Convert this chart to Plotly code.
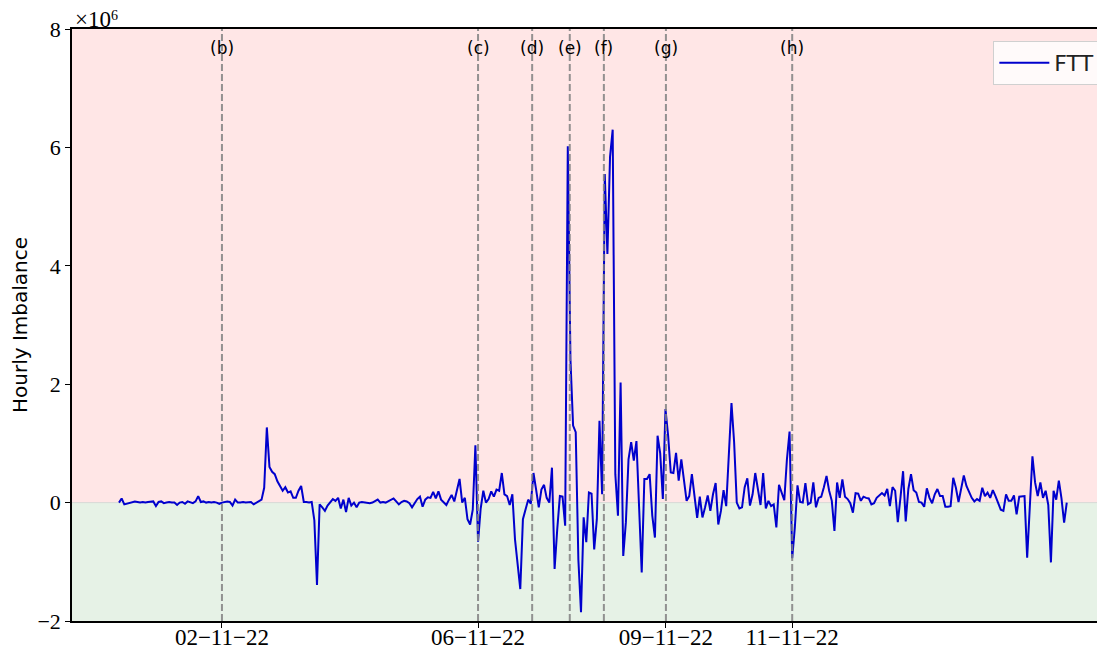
import pandas as pd
import plotly.graph_objects as go

# Hourly imbalance of the FTT series, in units of 10^6
imbalance_millions = [
    # 31-10-22 09:00 onwards
    0.0, 0.07, -0.03, -0.02, 0.0, 0.01, 0.02, 0.01, 0.0, 0.01,
    0.0, 0.01, 0.02, 0.02, -0.06, 0.01, 0.02, -0.01, 0.0, 0.01,
    0.0, 0.0, -0.04, 0.0, 0.01, -0.02, 0.02, 0.0, -0.01, 0.02,
    0.11, 0.01, 0.02, 0.0, 0.01, 0.0, 0.01, 0.0, -0.02, 0.0,
    0.01, 0.02, 0.01, -0.05, 0.05, 0.0, 0.0, 0.01, 0.0, 0.01,
    0.01, -0.03, 0.0, 0.02, 0.05, 0.25, 1.27, 0.6, 0.52, 0.48,
    0.36, 0.28, 0.2, 0.26, 0.17, 0.19, 0.08, 0.08, 0.2, 0.28,
    0.01, 0.01, 0.0, 0.01, -0.3, -1.39, -0.03, -0.08, -0.14, -0.05,
    0.0, 0.06, 0.03, 0.08, -0.1, 0.05, -0.16, 0.08, -0.05, 0.0,
    -0.08, 0.0, 0.01, 0.0, 0.0, -0.01, 0.0, 0.03, 0.05, 0.0,
    0.01, 0.0, 0.02, 0.04, 0.07, 0.02, -0.03, 0.01, 0.03, 0.02,
    -0.01, -0.08, 0.0, 0.06, 0.1, -0.07, 0.05, 0.09, 0.08, 0.18,
    0.07, 0.19, 0.05, 0.0, -0.04, 0.05, 0.13, 0.02, 0.2, 0.4,
    0.0, 0.08, -0.28, -0.37, -0.12, 0.97, -0.66, -0.1, 0.2, 0.0,
    0.06, 0.19, 0.1, 0.22, 0.2, 0.5, 0.14, 0.11, -0.04, 0.14,
    -0.62, -1.07, -1.46, -0.28, -0.12, 0.05, -0.02, 0.5, 0.22, -0.08,
    0.22, 0.3, 0.08, 0.0, 0.59, -1.12, -0.45, 0.11, 0.1, -0.39,
    6.02, 2.42, 1.3, 1.19, -0.96, -1.85, -0.25, -0.67, 0.17, 0.15,
    -0.79, -0.28, 1.38, 0.14, 5.55, 4.2, 5.84, 6.3, 0.48, -0.22,
    2.03, -0.9, -0.33, 0.73, 1.02, 0.71, 1.04, 0.05, -1.18, 0.4,
    0.4, 0.48, -0.22, -0.59, 1.13, 0.83, 0.06, 1.58, 1.13, 0.51,
    0.5, 0.84, 0.37, 0.73, 0.4, 0.03, 0.11, 0.48, 0.11, -0.26,
    0.1, -0.25, -0.08, 0.12, -0.14, 0.14, 0.33, -0.37, -0.14, 0.21,
    -0.06, 0.82, 1.68, 1.02, 0.0, -0.1, -0.08, 0.26, 0.41, -0.05,
    0.14, 0.5, 0.22, -0.04, 0.5, -0.1, 0.03, -0.06, -0.03, -0.42,
    0.3, 0.18, 0.04, 0.73, 1.2, -0.94, -0.42, 0.29, 0.01, 0.0,
    0.33, -0.03, 0.0, 0.34, -0.08, 0.08, 0.1, 0.26, 0.45, 0.2,
    0.03, -0.48, 0.34, 0.08, 0.39, 0.1, 0.06, -0.01, -0.17, 0.16,
    0.15, 0.03, 0.1, 0.08, 0.07, -0.03, -0.01, 0.08, 0.12, 0.16,
    0.12, 0.23, -0.06, 0.26, 0.2, -0.33, 0.08, 0.53, -0.32, 0.23,
    0.48, 0.21, 0.17, 0.01, 0.0, -0.07, 0.24, 0.08, -0.01, 0.14,
    0.23, 0.11, 0.11, -0.07, -0.07, -0.06, 0.42, 0.25, 0.01, 0.23,
    0.46, 0.28, 0.17, 0.08, 0.02, 0.06, 0.03, 0.25, 0.11, 0.17,
    0.08, 0.21, 0.11, -0.01, -0.12, -0.14, 0.14, 0.03, 0.03, 0.12,
    -0.2, 0.1, 0.11, 0.11, -0.93, -0.17, 0.78, 0.34, 0.11, 0.34,
    0.08, 0.2, -0.04, -1.01, 0.2, 0.05, 0.37, 0.07, -0.34, 0.0,
]
series_start = "2022-10-31 09:00"

event_labels = ["(b)", "(c)", "(d)", "(e)", "(f)", "(g)", "(h)"]
event_times = ["2022-11-02 00:00", "2022-11-06 01:00", "2022-11-06 21:30",
               "2022-11-07 11:45", "2022-11-08 00:40", "2022-11-09 00:10",
               "2022-11-11 00:00"]
tick_times = ["2022-11-02 00:00", "2022-11-06 01:00", "2022-11-09 00:10", "2022-11-11 00:00"]
tick_labels = ["02\u221211\u221222", "06\u221211\u221222", "09\u221211\u221222", "11\u221211\u221222"]
y_ticks = [-2, 0, 2, 4, 6, 8]
y_tick_labels = ["\u22122", "0", "2", "4", "6", "8"]
x_range = ["2022-10-30 15:12", "2022-11-15 22:29"]
y_range = [-2, 8]

times = pd.date_range(series_start, periods=len(imbalance_millions), freq="h")

serif = "Liberation Serif, DejaVu Serif, serif"
sans = "DejaVu Sans, Liberation Sans, sans-serif"

fig = go.Figure()
fig.add_trace(go.Scatter(x=times, y=imbalance_millions, mode="lines", name="FTT",
                         line=dict(color="#0000CD", width=2)))

shapes = [
    dict(type="rect", xref="paper", x0=0, x1=1, yref="y", y0=0, y1=y_range[1],
         fillcolor="#FFE6E6", line=dict(width=0), layer="below"),
    dict(type="rect", xref="paper", x0=0, x1=1, yref="y", y0=y_range[0], y1=0,
         fillcolor="#E6F2E6", line=dict(width=0), layer="below"),
    dict(type="line", xref="paper", x0=0, x1=1, yref="y", y0=0, y1=0,
         line=dict(color="rgba(200,200,200,0.6)", width=1), layer="below"),
]
annotations = []
for lab, t in zip(event_labels, event_times):
    shapes.append(dict(type="line", xref="x", x0=t, x1=t, yref="paper", y0=0, y1=1,
                       line=dict(color="rgba(128,128,128,0.85)", width=2, dash="7px,3px")))
    annotations.append(dict(x=t, xref="x", y=0.968, yref="paper", text=lab, showarrow=False,
                            font=dict(family=sans, size=17, color="black"),
                            xanchor="center", yanchor="middle"))
# axis offset text "×10^6" (base and exponent placed separately to stay inside the page)
annotations.append(dict(x=0.001, xref="paper", y=1.016, yref="paper",
                        text="\u00d710", showarrow=False,
                        font=dict(family=serif, size=23, color="black"),
                        xanchor="left", yanchor="middle"))
annotations.append(dict(x=0.0415, xref="paper", y=1.0235, yref="paper",
                        text="6", showarrow=False,
                        font=dict(family=serif, size=14, color="black"),
                        xanchor="center", yanchor="middle"))

# the page body adds an 8px offset, so the figure is sized to fit the window
fig.update_layout(
    width=1097, height=641,
    margin=dict(l=64, r=0, t=21, b=28, autoexpand=False),
    paper_bgcolor="white", plot_bgcolor="white",
    shapes=shapes, annotations=annotations,
    showlegend=True,
    legend=dict(x=0.9955, y=0.98, xanchor="right", yanchor="top",
                bgcolor="rgba(255,255,255,0.8)", bordercolor="#d0d0d0", borderwidth=1,
                itemwidth=50,
                font=dict(family=sans, size=22, color="#222")),
    xaxis=dict(type="date", range=x_range, tickvals=tick_times, ticktext=tick_labels,
               automargin=False,
               showgrid=False, zeroline=False, showline=True, linecolor="black", linewidth=1.5,
               mirror=True, ticks="outside", ticklen=5, tickcolor="black",
               ticklabelstandoff=-10,
               tickfont=dict(family=serif, size=23, color="black")),
    yaxis=dict(range=y_range, tickvals=y_ticks, ticktext=y_tick_labels, automargin=False,
               showgrid=False, zeroline=False, showline=True, linecolor="black", linewidth=1.5,
               ticks="outside", ticklen=5, tickcolor="black",
               tickfont=dict(family=serif, size=22, color="black"),
               title=dict(text="Hourly Imbalance", font=dict(family=sans, size=20, color="black"),
                          standoff=17)),
)

fig.write_html("out.html")
